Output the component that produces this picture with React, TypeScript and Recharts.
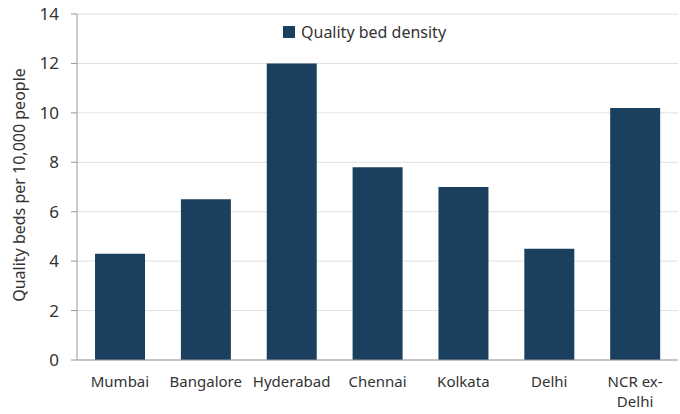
import React from 'react';
import { BarChart, Bar, XAxis, YAxis, CartesianGrid } from 'recharts';

const categories = ['Mumbai', 'Bangalore', 'Hyderabad', 'Chennai', 'Kolkata', 'Delhi', 'NCR ex-\nDelhi'];
const density = [4.3, 6.5, 12.0, 7.8, 7.0, 4.5, 10.2];
const yTicks = [0, 2, 4, 6, 8, 10, 12, 14];
const seriesName = 'Quality bed density';

const data = categories.map((c, i) => ({ name: c, value: density[i] }));

const FONT = '"Noto Sans", sans-serif';

const XTick = (props: any) => {
  const { x, y, payload } = props;
  const lines = String(payload.value).split('\n');
  return (
    <g transform={`translate(${x},${y})`}>
      {lines.map((l: string, i: number) => (
        <text key={i} x={0} y={0} dy={15 + i * 20} textAnchor="middle" fill="#333" fontSize={15} fontFamily={FONT}>
          {l}
        </text>
      ))}
    </g>
  );
};

export default function App() {
  return (
    <div style={{ position: 'absolute', left: 0, top: 0, width: 680, height: 414 }}>
      <BarChart width={680} height={414} data={data} margin={{ top: 14, right: 2, bottom: 4, left: 0 }} barCategoryGap="21%">
        <CartesianGrid vertical={false} stroke="#e0e0e0" />
        <XAxis dataKey="name" tickLine={false} axisLine={{ stroke: '#999' }} tick={<XTick />} height={50} interval={0} tickMargin={6} />
        <YAxis
          domain={[0, 14]}
          ticks={yTicks}
          width={77}
          axisLine={{ stroke: '#999' }}
          tickLine={{ stroke: '#999' }}
          tickSize={6}
          tickMargin={12}
          tick={{ fill: '#333', fontSize: 17, fontFamily: FONT }}
          label={{ value: 'Quality beds per 10,000 people', angle: -90, position: 'center', dx: -19, dy: -2, fill: '#333', fontSize: 16, fontFamily: FONT }}
        />
        <Bar dataKey="value" name={seriesName} fill="#1b3f5e" isAnimationActive={false} />
      </BarChart>
      <div style={{ position: 'absolute', left: 283, top: 21, display: 'flex', alignItems: 'center', fontFamily: FONT, fontSize: 16, color: '#333', lineHeight: '22px' }}>
        <span style={{ display: 'inline-block', width: 12, height: 12, background: '#1b3f5e', marginRight: 6 }} />
        <span>{seriesName}</span>
      </div>
    </div>
  );
}
